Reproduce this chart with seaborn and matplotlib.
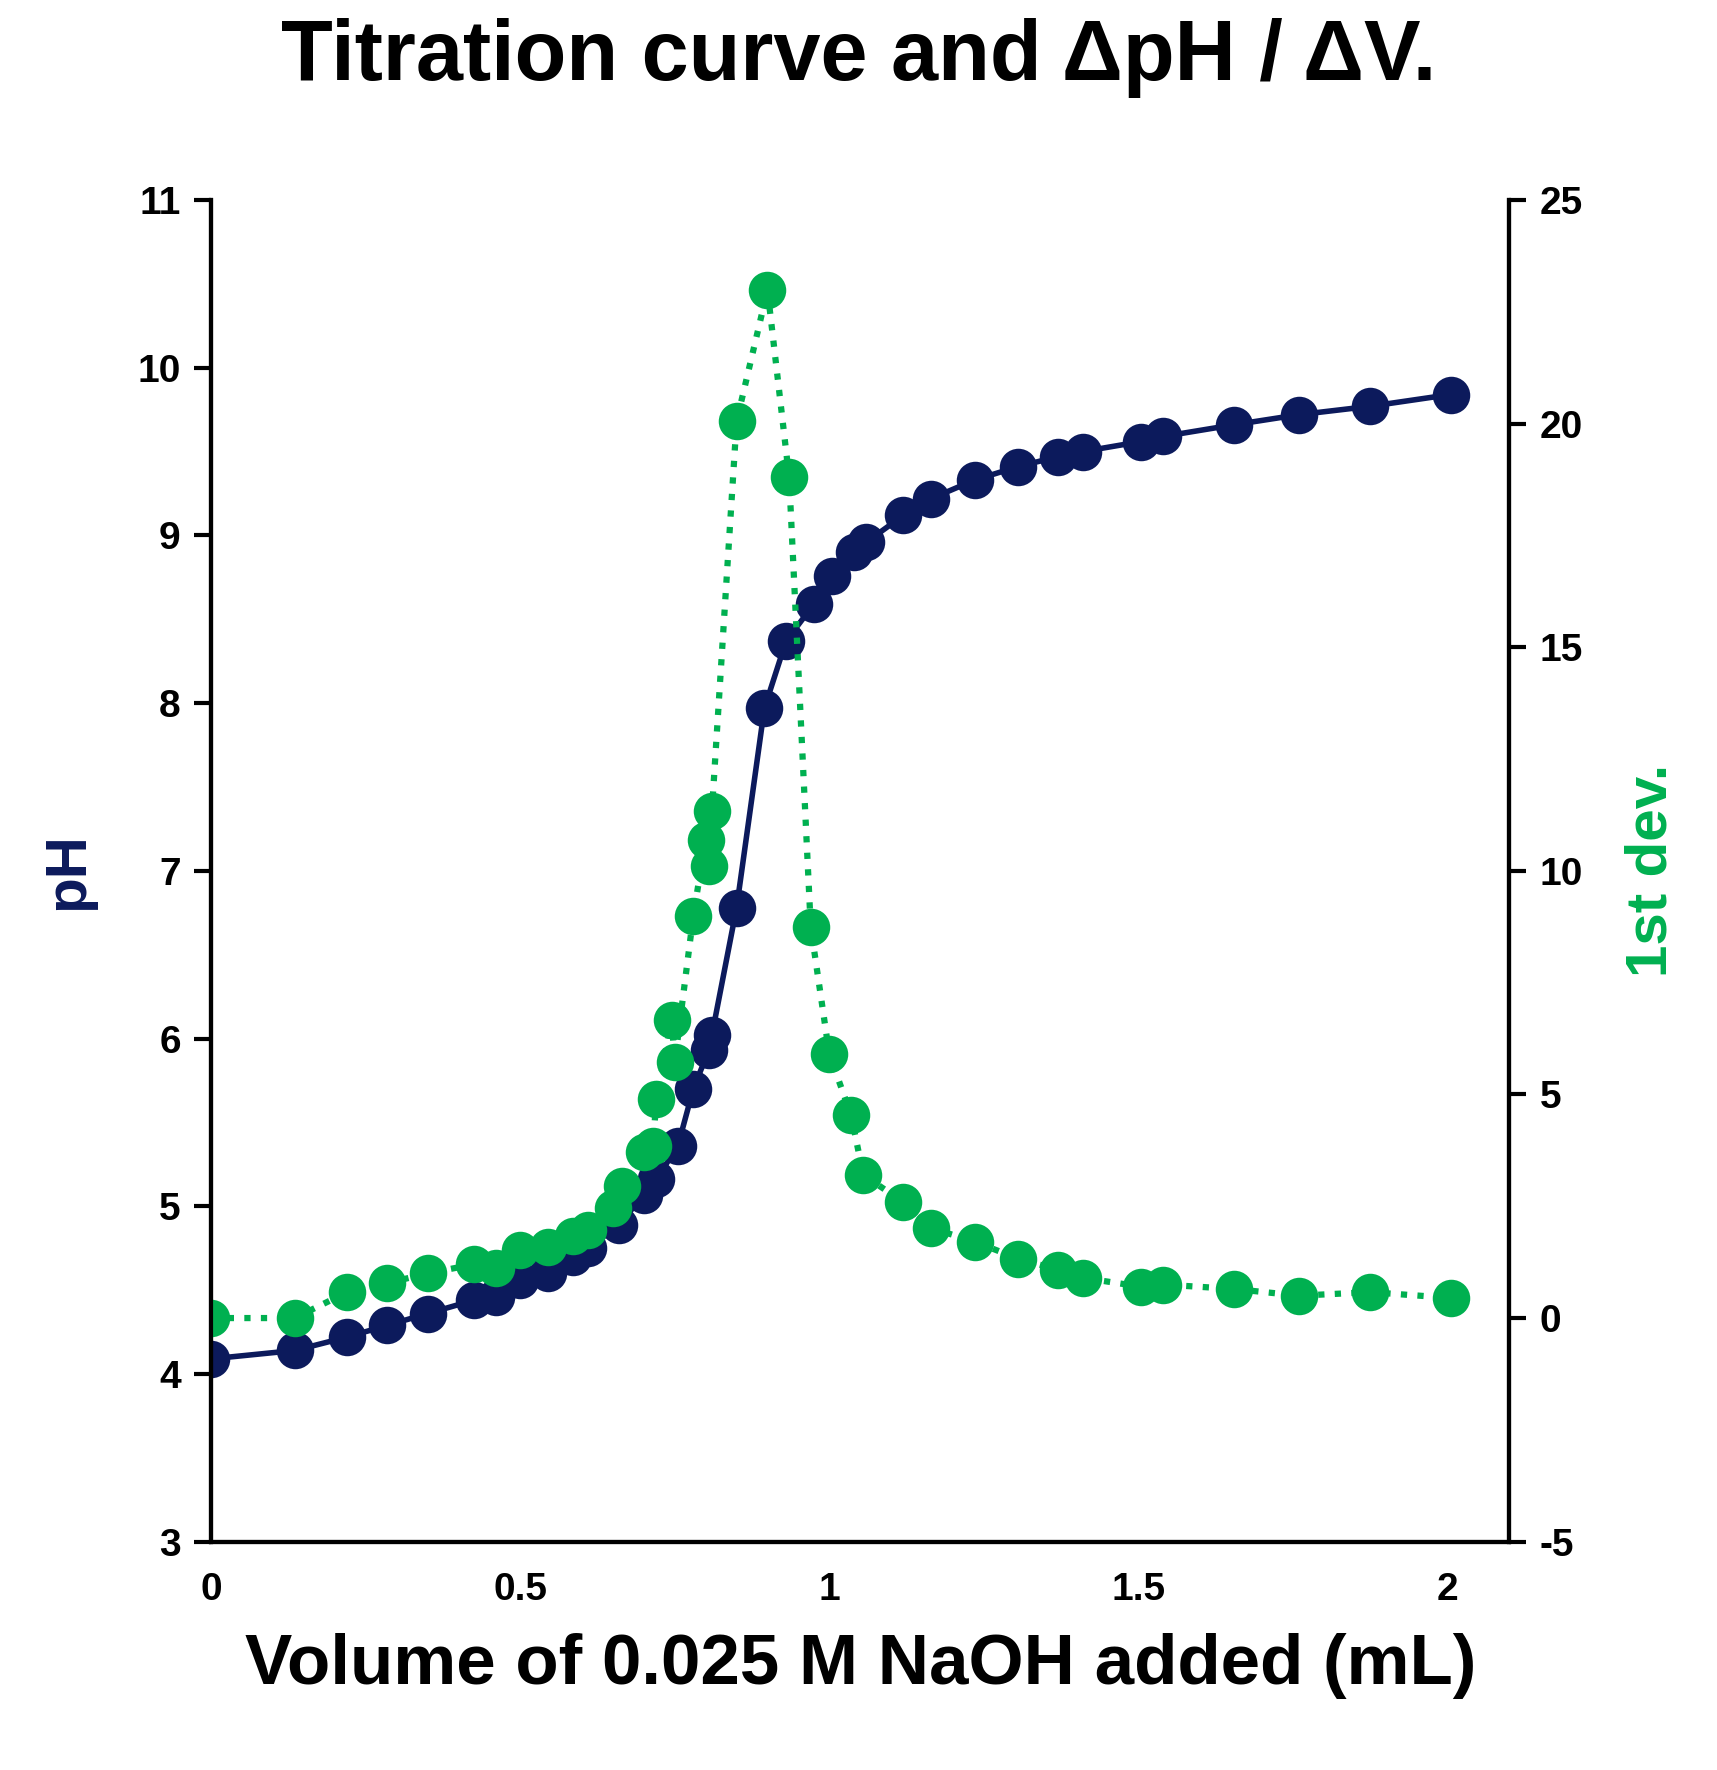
import matplotlib
matplotlib.use("Agg")
import matplotlib.pyplot as plt
import seaborn as sns

# Titration data
vol_ph = [0, 0.135, 0.22, 0.285, 0.35, 0.425, 0.46, 0.5, 0.545, 0.585, 0.61, 0.66, 0.7, 0.72,
          0.755, 0.78, 0.805, 0.81, 0.85, 0.895, 0.93, 0.975, 1.005, 1.04, 1.06, 1.12, 1.165,
          1.235, 1.305, 1.37, 1.41, 1.505, 1.54, 1.655, 1.76, 1.875, 2.005]
ph = [4.09, 4.14, 4.22, 4.29, 4.36, 4.44, 4.46, 4.56, 4.6, 4.7, 4.75, 4.89, 5.07, 5.16,
      5.36, 5.7, 5.93, 6.02, 6.78, 7.97, 8.37, 8.59, 8.76, 8.9, 8.96, 9.12, 9.22,
      9.33, 9.41, 9.47, 9.5, 9.56, 9.59, 9.66, 9.72, 9.77, 9.84]

vol_dev = [0, 0.135, 0.22, 0.285, 0.35, 0.425, 0.46, 0.5, 0.545, 0.585, 0.61, 0.65, 0.665, 0.7,
           0.715, 0.72, 0.745, 0.75, 0.78, 0.8, 0.805, 0.81, 0.85, 0.9, 0.935, 0.97, 1.0,
           1.035, 1.055, 1.12, 1.165, 1.235, 1.305, 1.37, 1.41, 1.505, 1.54, 1.655, 1.76,
           1.875, 2.005]
dev = [0.0, 0.0, 0.58, 0.78, 1.0, 1.2, 1.13, 1.53, 1.58, 1.83, 1.96, 2.46, 2.96, 3.72,
       3.85, 4.9, 6.66, 5.73, 9.0, 10.7, 10.1, 11.33, 20.05, 22.99, 18.8, 8.74, 5.9,
       4.55, 3.2, 2.59, 2.01, 1.71, 1.33, 1.08, 0.9, 0.7, 0.75, 0.65, 0.5, 0.58, 0.45]

navy = "#0c1a5c"
green = "#00b050"

sns.set_style("white")
plt.rcParams['font.family'] = ['Liberation Sans', 'DejaVu Sans']
plt.rcParams['font.weight'] = 'bold'
plt.rcParams['axes.unicode_minus'] = False

fig = plt.figure(figsize=(17.17, 17.7), dpi=100)
ax = fig.add_axes([0.123, 0.129, 0.756, 0.758])
ax2 = ax.twinx()

sns.lineplot(x=vol_ph, y=ph, ax=ax, color=navy, linewidth=4, marker="o",
             markersize=27, markeredgewidth=0, sort=False)
sns.lineplot(x=vol_dev, y=dev, ax=ax2, color=green, linestyle=":", linewidth=4.5,
             marker="o", markersize=27, markeredgewidth=0, sort=False)

ax.set_xlim(0, 2.1)
ax.set_ylim(3, 11)
ax2.set_ylim(-5, 25)
ax.set_xticks([0, 0.5, 1, 1.5, 2])
ax.set_xticklabels(["0", "0.5", "1", "1.5", "2"])
ax.set_yticks(range(3, 12))
ax2.set_yticks(range(-5, 26, 5))

for a in (ax, ax2):
    for s in a.spines.values():
        s.set_color("black")
        s.set_linewidth(3)
    a.spines['top'].set_visible(False)
    a.tick_params(direction="out", length=12, width=3, labelsize=28, colors="black", pad=10)
ax2.tick_params(axis="y", left=False)
ax.tick_params(axis="y", right=False)
for lab in ax.get_xticklabels() + ax.get_yticklabels() + ax2.get_yticklabels():
    lab.set_fontweight("bold")

ax.set_xlabel("Volume of 0.025 M NaOH added (mL)", fontsize=51, fontweight="bold",
              color="black", labelpad=18)
ax.set_ylabel("pH", fontsize=42, fontweight="bold", color=navy, labelpad=30)
ax2.set_ylabel("1st dev.", fontsize=42, fontweight="bold", color=green, labelpad=30)
fig.suptitle("Titration curve and \u0394pH / \u0394V.", fontsize=61, fontweight="bold",
             color="black", y=0.99)

fig.savefig("out.png", dpi=100)
